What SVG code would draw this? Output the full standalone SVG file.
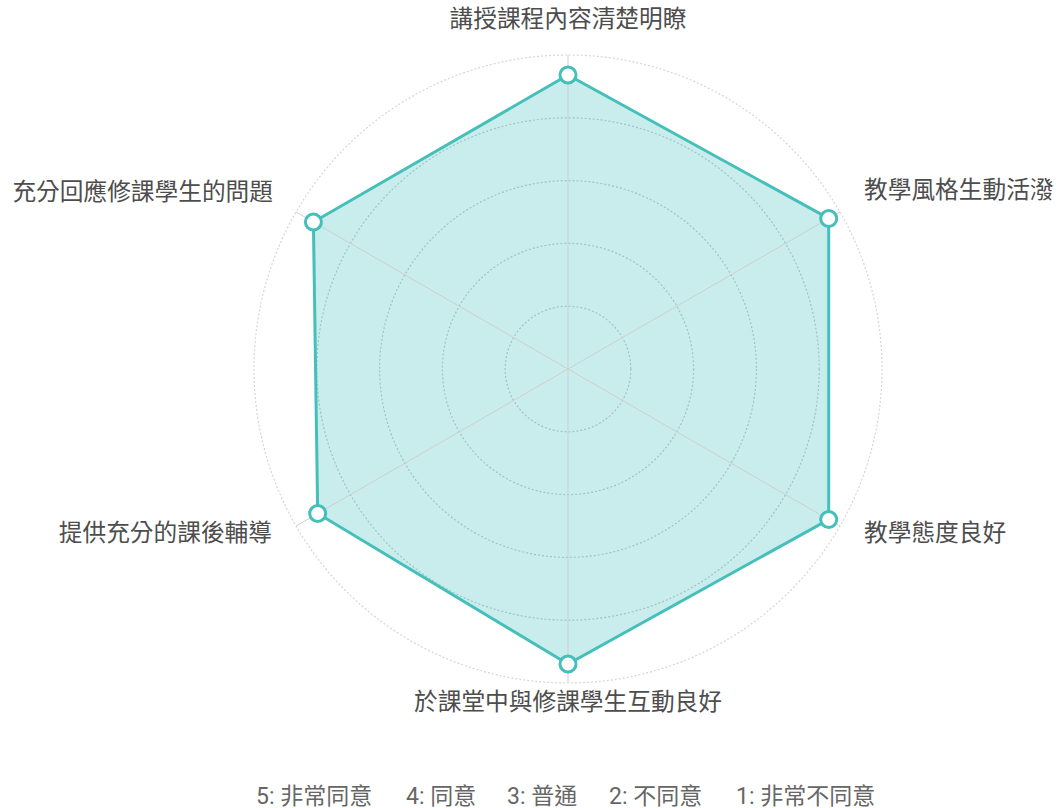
<svg xmlns="http://www.w3.org/2000/svg" width="1057" height="808" viewBox="0 0 1057 808">
<style>
.ring{fill:none;stroke:#c4c4c4;stroke-width:1.2;stroke-dasharray:2 2}
.axis{stroke:#cfcfcf;stroke-width:1}
.lbl{font-family:"Noto Sans CJK TC","Noto Sans",sans-serif;font-size:23.7px;fill:#4d4d4d}
.leg{font-family:"Roboto","Noto Sans CJK TC",sans-serif;font-size:23px;fill:#666}
.pt{fill:#fff;stroke:#45bfba;stroke-width:3}
</style>
<rect width="1057" height="808" fill="#fff"/>
<g id="grid">
<circle class="ring" cx="568" cy="369" r="62.8"/>
<circle class="ring" cx="568" cy="369" r="125.6"/>
<circle class="ring" cx="568" cy="369" r="188.4"/>
<circle class="ring" cx="568" cy="369" r="251.2"/>
<circle class="ring" cx="568" cy="369" r="314" style="stroke:#d6d6d6"/>
</g>
<g id="data">
<polygon points="568,75 828.7,218.5 828.7,519.5 568,664 317.7,513.5 313.4,222" fill="rgba(75,192,192,0.3)" stroke="#45bfba" stroke-width="3" stroke-linejoin="miter"/>
</g>
<g id="connectors">
<line class="axis" x1="568" y1="369" x2="568" y2="55"/>
<line class="axis" x1="568" y1="369" x2="839.9" y2="212"/>
<line class="axis" x1="568" y1="369" x2="839.9" y2="526"/>
<line class="axis" x1="568" y1="369" x2="568" y2="683"/>
<line class="axis" x1="568" y1="369" x2="296.1" y2="526"/>
<line class="axis" x1="568" y1="369" x2="296.1" y2="212"/>
</g>
<g id="points">
<circle class="pt" cx="568" cy="75" r="8"/>
<circle class="pt" cx="828.7" cy="218.5" r="8"/>
<circle class="pt" cx="828.7" cy="519.5" r="8"/>
<circle class="pt" cx="568" cy="664" r="8"/>
<circle class="pt" cx="317.7" cy="513.5" r="8"/>
<circle class="pt" cx="313.4" cy="222" r="8"/>
</g>
<g id="labels">
<text class="lbl" x="568" y="27" text-anchor="middle">講授課程內容清楚明瞭</text>
<text class="lbl" x="864" y="198">教學風格生動活潑</text>
<text class="lbl" x="864" y="541">教學態度良好</text>
<text class="lbl" x="568" y="710" text-anchor="middle">於課堂中與修課學生互動良好</text>
<text class="lbl" x="272" y="541" text-anchor="end">提供充分的課後輔導</text>
<text class="lbl" x="273" y="200" text-anchor="end">充分回應修課學生的問題</text>
</g>
<g id="legend">
<text class="leg" x="256" y="804">5: 非常同意</text>
<text class="leg" x="406" y="804">4: 同意</text>
<text class="leg" x="507" y="804">3: 普通</text>
<text class="leg" x="609" y="804">2: 不同意</text>
<text class="leg" x="736" y="804">1: 非常不同意</text>
</g>
</svg>
